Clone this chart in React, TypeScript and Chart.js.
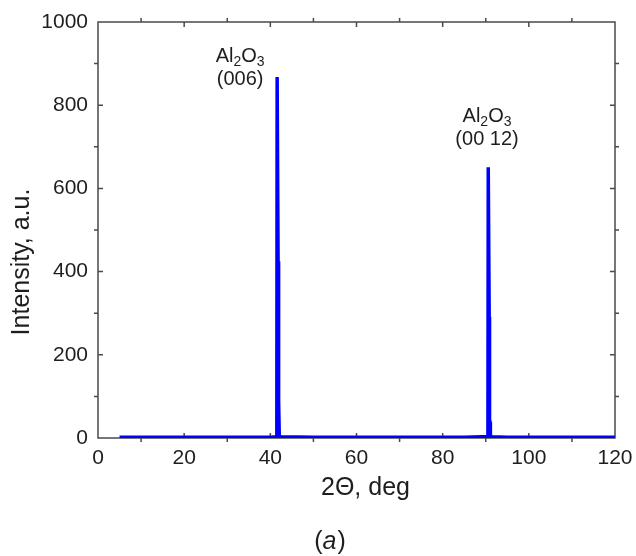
import React, { useEffect, useRef } from "react";
import { Chart, registerables } from "chart.js";

Chart.register(...registerables);

// Diffraction pattern (2θ in degrees, intensity in a.u.)
const twoTheta = [
  5, 10, 15, 20, 25, 30, 35, 40, 41.3, 41.5, 41.58, 41.72, 41.8, 41.86, 41.9, 42.0, 42.08,
  42.5, 50, 55, 60, 65, 70, 75, 80, 85, 89, 90.3, 90.5, 90.58, 90.72, 90.8, 90.86, 90.9,
  91.0, 91.08, 91.5, 95, 100, 105, 110, 115, 120,
];
const intensity = [
  2, 2, 2, 2, 2, 2, 2, 2, 3, 4, 868, 868, 425, 425, 90, 90, 4,
  3, 2, 2, 2, 2, 2, 2, 2, 2, 3, 3, 4, 651, 651, 291, 291, 38,
  38, 4, 3, 2, 2, 2, 2, 2, 2,
];

// Axis ranges and ticks
const xMin = 0;
const xMax = 120;
const xMajorStep = 20;
const xMinorStep = 10;
const yMin = 0;
const yMax = 1000;
const yMajorStep = 200;
const yMinorStep = 100;

// Peak labels
const peakFormula = ["Al", "2", "O", "3"];
const peakIndices = ["(006)", "(00 12)"];
const peakLabelX = [33.0, 90.3];
const peakLabelY = [921, 776];

const xTitle = "2Θ, deg";
const yTitle = "Intensity, a.u.";
const panelLetter = "a";

const FONT = "'Liberation Sans', Arial, sans-serif";
const AXIS_COLOR = "#4a4a4a";
const TEXT_COLOR = "#1e1e1e";

const framePlugin = {
  id: "frameTicks",
  beforeDatasetsDraw(chart: any) {
    const { ctx, chartArea: a, scales } = chart;
    const xs = scales.x;
    const ys = scales.y;
    ctx.save();
    ctx.strokeStyle = AXIS_COLOR;
    ctx.lineWidth = 1.5;
    ctx.strokeRect(a.left, a.top, a.right - a.left, a.bottom - a.top);
    ctx.beginPath();
    const major = 5;
    const minor = 4;
    for (let v = xMin; v <= xMax + 1e-9; v += xMinorStep) {
      const px = xs.getPixelForValue(v);
      const isMajor = Math.abs(v / xMajorStep - Math.round(v / xMajorStep)) < 1e-6;
      if (v === xMin || v === xMax) continue;
      if (isMajor) {
        ctx.moveTo(px, a.bottom);
        ctx.lineTo(px, a.bottom - major);
        ctx.moveTo(px, a.top);
        ctx.lineTo(px, a.top + major);
      } else {
        ctx.moveTo(px, a.bottom);
        ctx.lineTo(px, a.bottom + minor);
        ctx.moveTo(px, a.top);
        ctx.lineTo(px, a.top - minor);
      }
    }
    for (let v = yMin; v <= yMax + 1e-9; v += yMinorStep) {
      const py = ys.getPixelForValue(v);
      const isMajor = Math.abs(v / yMajorStep - Math.round(v / yMajorStep)) < 1e-6;
      if (v === yMin || v === yMax) continue;
      if (isMajor) {
        ctx.moveTo(a.left, py);
        ctx.lineTo(a.left + major, py);
        ctx.moveTo(a.right, py);
        ctx.lineTo(a.right - major, py);
      } else {
        ctx.moveTo(a.left, py);
        ctx.lineTo(a.left - minor, py);
        ctx.moveTo(a.right, py);
        ctx.lineTo(a.right + minor, py);
      }
    }
    ctx.stroke();
    ctx.restore();
  },
  afterDraw(chart: any) {
    const { ctx, chartArea: a, scales } = chart;
    const xs = scales.x;
    const ys = scales.y;
    ctx.save();
    ctx.fillStyle = TEXT_COLOR;

    // Peak labels: Al2O3 with subscripts, then Miller indices
    const big = 20;
    const small = 14;
    for (let i = 0; i < peakIndices.length; i++) {
      const cx = xs.getPixelForValue(peakLabelX[i]);
      const cy = ys.getPixelForValue(peakLabelY[i]);
      const parts = peakFormula;
      const fonts = parts.map((_, k) => (k % 2 === 0 ? `${big}px ${FONT}` : `${small}px ${FONT}`));
      let total = 0;
      const widths = parts.map((p, k) => {
        ctx.font = fonts[k];
        const w = ctx.measureText(p).width;
        total += w;
        return w;
      });
      let x = cx - total / 2;
      ctx.textAlign = "left";
      ctx.textBaseline = "alphabetic";
      const base = cy + big * 0.36;
      parts.forEach((p, k) => {
        ctx.font = fonts[k];
        ctx.fillText(p, x, k % 2 === 0 ? base : base + 4);
        x += widths[k];
      });
      ctx.font = `${big}px ${FONT}`;
      ctx.textAlign = "center";
      ctx.fillText(peakIndices[i], cx, base + 23);
    }

    // Axis titles
    const tf = 25;
    ctx.font = `${tf}px ${FONT}`;
    ctx.textAlign = "center";
    ctx.textBaseline = "middle";
    ctx.fillText(xTitle, (a.left + a.right) / 2 + 9, a.bottom + 50);
    ctx.save();
    ctx.translate(a.left - 76, (a.top + a.bottom) / 2 + 32);
    ctx.rotate(-Math.PI / 2);
    ctx.fillText(yTitle, 0, 0);
    ctx.restore();

    // Panel letter "(a)"
    const pf = 25;
    const cx = (a.left + a.right) / 2 - 27;
    const cy = a.bottom + 104;
    ctx.textBaseline = "middle";
    ctx.textAlign = "left";
    ctx.font = `${pf}px ${FONT}`;
    const wl = ctx.measureText("(").width;
    const wr = ctx.measureText(")").width;
    ctx.font = `italic ${pf}px ${FONT}`;
    const wa = ctx.measureText(panelLetter).width;
    let x = cx - (wl + wa + wr) / 2;
    ctx.font = `${pf}px ${FONT}`;
    ctx.fillText("(", x, cy);
    x += wl;
    ctx.font = `italic ${pf}px ${FONT}`;
    ctx.fillText(panelLetter, x, cy);
    x += wa + 1;
    ctx.font = `${pf}px ${FONT}`;
    ctx.fillText(")", x, cy);
    ctx.restore();
  },
};

export default function App() {
  const ref = useRef<HTMLCanvasElement | null>(null);
  useEffect(() => {
    document.body.style.margin = "0";
    const canvas = ref.current;
    if (!canvas) return;
    const chart = new Chart(canvas, {
      type: "line",
      data: {
        datasets: [
          {
            data: twoTheta.map((x, i) => ({ x, y: intensity[i] })),
            borderColor: "#0000ff",
            borderWidth: 3.5,
            pointRadius: 0,
            tension: 0,
            fill: false,
          },
        ],
      },
      options: {
        responsive: false,
        animation: false,
        maintainAspectRatio: false,
        layout: { padding: { left: 0, right: 21, top: 22, bottom: 0 } },
        plugins: { legend: { display: false }, tooltip: { enabled: false }, title: { display: false } },
        scales: {
          x: {
            type: "linear",
            min: xMin,
            max: xMax,
            grid: { display: false, drawTicks: false },
            border: { display: false },
            ticks: {
              stepSize: xMajorStep,
              padding: 8,
              color: TEXT_COLOR,
              font: { family: FONT, size: 21 },
              maxRotation: 0,
              autoSkip: false,
              callback: (v: any) => String(v),
            },
            afterFit(scale: any) {
              scale.height = 118;
              scale.paddingLeft = 0;
              scale.paddingRight = 0;
            },
          },
          y: {
            min: yMin,
            max: yMax,
            grid: { display: false, drawTicks: false },
            border: { display: false },
            ticks: {
              stepSize: yMajorStep,
              padding: 10,
              color: TEXT_COLOR,
              font: { family: FONT, size: 21 },
              callback: (v: any) => String(v),
            },
            afterFit(scale: any) {
              scale.width = 98;
              scale.paddingTop = 0;
              scale.paddingBottom = 0;
            },
          },
        },
      },
      plugins: [framePlugin],
    });
    return () => chart.destroy();
  }, []);
  return <canvas ref={ref} width={636} height={556} style={{ display: "block" }} />;
}
